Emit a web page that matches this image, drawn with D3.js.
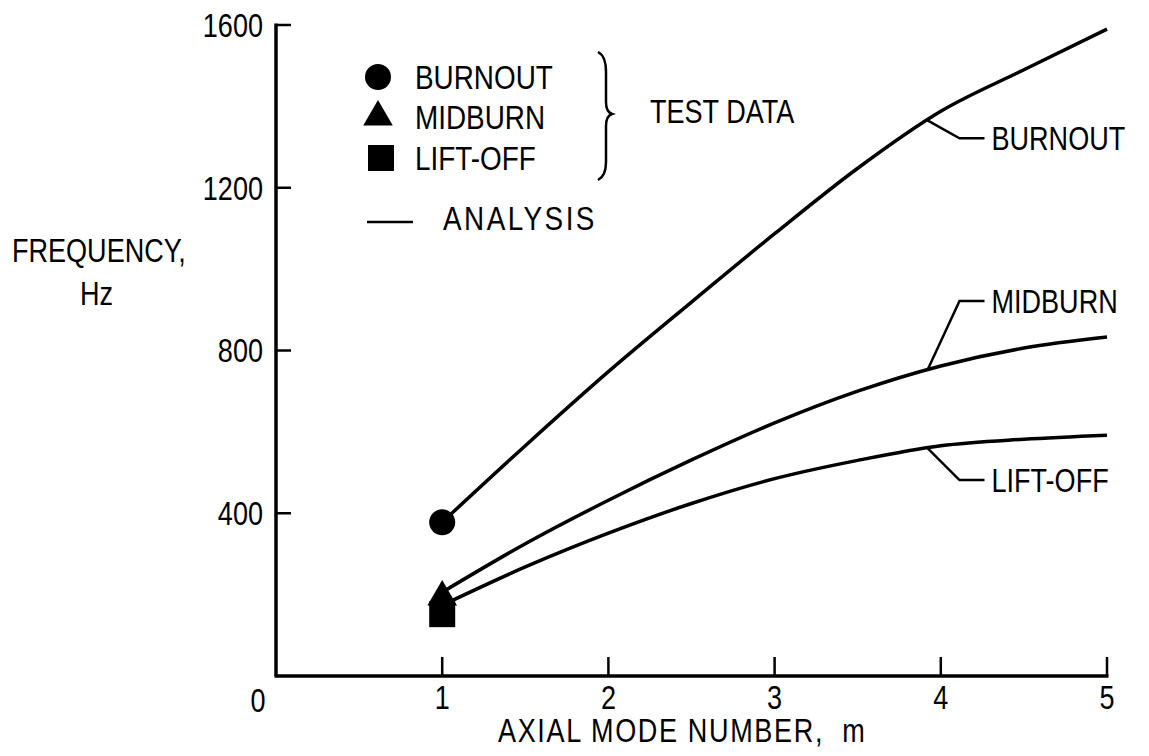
<!DOCTYPE html>
<html>
<head>
<meta charset="utf-8">
<script src="https://cdn.jsdelivr.net/npm/d3@7"></script>
<style>
  html, body { margin: 0; padding: 0; background: #fff; }
  svg text { font-family: "Liberation Sans", Arial, sans-serif; font-size: 33px; fill: #000; }
</style>
</head>
<body>
<svg id="chart" width="1149" height="756"></svg>
<script>
// ---- data ----
const modeNumbers = [1, 1.5, 2, 2.5, 3, 3.5, 4, 4.5, 5];
const burnoutAnalysis = [378, 566, 748, 919, 1087, 1248, 1388, 1490, 1590];
const midburnAnalysis = [206, 325, 432, 531, 622, 700, 762, 806, 833];
const liftoffAnalysis = [174, 268, 351, 424, 485, 530, 566, 582, 592];
const testMode = [1, 1, 1];
const testValues = [378, 194, 152];       // burnout, midburn, lift-off
const testSymbols = ["circle", "triangle", "square"];
const xTicks = [1, 2, 3, 4, 5];
const yTicks = [400, 800, 1200, 1600];
const legendLabels = ["BURNOUT", "MIDBURN", "LIFT-OFF"];
const curveLabels = ["BURNOUT", "MIDBURN", "LIFT-OFF"];
const labelAt = 3.92;

const svg = d3.select("#chart");
const x = d3.scaleLinear().domain([0, 5]).range([276, 1107]);
const y = d3.scaleLinear().domain([0, 1600]).range([676, 25]);

const NARROW = 0.82;
function txt(px, py, str, anchor, opts) {
  const t = svg.append("text")
    .attr("transform", `translate(${px},${py}) scale(${NARROW},1)`)
    .attr("text-anchor", anchor || "start")
    .text(str);
  if (opts && opts.dy) t.attr("dy", opts.dy);
  if (opts && opts.ls) t.style("letter-spacing", opts.ls + "px");
  if (opts && opts.size) t.style("font-size", opts.size + "px");
  if (opts && opts.pre) t.attr("xml:space", "preserve");
  return t;
}

const SW = 3.5;
// axes
svg.append("line").attr("x1", x(0)).attr("x2", x(0)).attr("y1", y(1600) - 1.5).attr("y2", y(0))
  .attr("stroke", "#000").attr("stroke-width", SW);
svg.append("line").attr("x1", x(0) - 1.5).attr("x2", x(5) + 1.5).attr("y1", y(0)).attr("y2", y(0))
  .attr("stroke", "#000").attr("stroke-width", SW);

// y ticks (inward)
yTicks.forEach(v => {
  svg.append("line").attr("x1", x(0)).attr("x2", x(0) + 15).attr("y1", y(v)).attr("y2", y(v))
    .attr("stroke", "#000").attr("stroke-width", 2.5);
  txt(x(0) - 13, y(v), v, "end", { dy: "0.36em" });
});
// x ticks (inward)
xTicks.forEach(v => {
  svg.append("line").attr("x1", x(v)).attr("x2", x(v)).attr("y1", y(0)).attr("y2", y(0) - 19)
    .attr("stroke", "#000").attr("stroke-width", 2.5);
  txt(x(v), y(0) + 33, v, "middle");
});
// origin label
txt(x(0) - 18, y(0) + 36, 0, "middle");

// axis titles
txt(12, 262, "FREQUENCY,");
txt(80, 305, "Hz");
txt(498, 742, "AXIAL MODE NUMBER,  m", "start", { ls: 2, pre: true });

// analysis curves
const line = d3.line().x((d, i) => x(modeNumbers[i])).y(d => y(d)).curve(d3.curveMonotoneX);
[burnoutAnalysis, midburnAnalysis, liftoffAnalysis].forEach(s => {
  svg.append("path").attr("d", line(s)).attr("fill", "none").attr("stroke", "#000")
    .attr("stroke-width", SW).attr("stroke-linejoin", "round");
});

// test data markers
const sym = {
  circle: d3.symbol().type(d3.symbolCircle).size(Math.PI * 13 * 13),
  triangle: d3.symbol().type(d3.symbolTriangle).size(380),
  square: d3.symbol().type(d3.symbolSquare).size(26 * 26)
};
testValues.forEach((v, i) => {
  svg.append("path").attr("d", sym[testSymbols[i]]())
    .attr("transform", `translate(${x(testMode[i])},${y(v)})`).attr("fill", "#000");
});

// curve leader labels
function interp(series, xv) {
  const i = d3.bisectRight(modeNumbers, xv) - 1;
  const t = (xv - modeNumbers[i]) / (modeNumbers[i + 1] - modeNumbers[i]);
  return series[i] + t * (series[i + 1] - series[i]);
}
const leaderDy = [18, -69, 32];
[burnoutAnalysis, midburnAnalysis, liftoffAnalysis].forEach((s, i) => {
  const px = x(labelAt), py = y(interp(s, labelAt));
  const ey = py + leaderDy[i];
  svg.append("polyline")
    .attr("points", `${px},${py} ${px + 32},${ey} ${px + 57},${ey}`)
    .attr("fill", "none").attr("stroke", "#000").attr("stroke-width", 2.5);
  txt(px + 64, ey, curveLabels[i], "start", { dy: "0.36em" });
});

// legend
const legY = [77, 117, 158];
legendLabels.forEach((lab, i) => {
  svg.append("path").attr("d", sym[testSymbols[i]]())
    .attr("transform", `translate(${i === 2 ? 381 : 378},${legY[i]})`).attr("fill", "#000");
  txt(415, legY[i], lab, "start", { dy: "0.36em", size: 34 });
});
svg.append("line").attr("x1", 367).attr("x2", 413).attr("y1", 222).attr("y2", 222)
  .attr("stroke", "#000").attr("stroke-width", 2.5);
txt(443, 230, "ANALYSIS", "start", { ls: 3, size: 34 });
// brace
svg.append("path")
  .attr("d", "M598,52 Q606,56 606,72 L606,102 Q606,112 612,114 Q606,116 606,126 L606,162 Q606,176 598,180")
  .attr("fill", "none").attr("stroke", "#000").attr("stroke-width", 2.5);
txt(650, 123, "TEST DATA");
</script>
</body>
</html>
